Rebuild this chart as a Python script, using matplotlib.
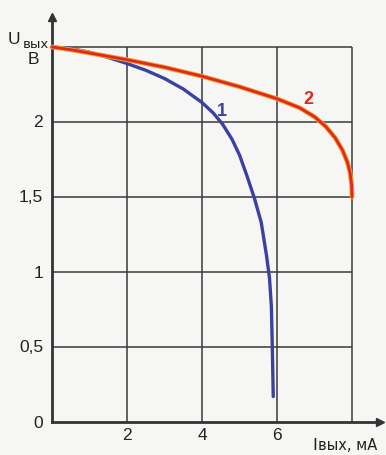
import matplotlib.pyplot as plt

# curve 1 (blue) and curve 2 (red): I out, mA -> U out, V
i1 = [0, 0.5, 1, 1.5, 2, 2.5, 3, 3.5, 4.0, 4.3, 4.55, 4.8, 5.0, 5.2, 5.4, 5.58, 5.72, 5.8, 5.85, 5.875, 5.9]
u1 = [2.5, 2.49, 2.465, 2.43, 2.39, 2.345, 2.29, 2.22, 2.13, 2.06, 1.985, 1.885, 1.78, 1.64, 1.49, 1.33, 1.11, 0.96, 0.77, 0.5, 0.17]
i2 = [0, 0.5, 1, 2, 3, 4, 5, 6, 6.6, 7.0, 7.3, 7.55, 7.75, 7.88, 7.95, 7.99, 8.0]
u2 = [2.5, 2.482, 2.46, 2.415, 2.365, 2.305, 2.235, 2.155, 2.095, 2.035, 1.97, 1.895, 1.81, 1.73, 1.66, 1.58, 1.5]

xgrid = [0, 2, 4, 6, 8]
ygrid = [0, 0.5, 1, 1.5, 2, 2.5]
xticklabels = {2: "2", 4: "4", 6: "6"}
yticklabels = {0: "0", 0.5: "0,5", 1: "1", 1.5: "1,5", 2: "2"}

plt.rcParams['font.family'] = ['Liberation Sans', 'DejaVu Sans']
W, H = 386, 456
fig = plt.figure(figsize=(W / 100, H / 100), dpi=100)
fig.patch.set_facecolor('#f6f6f4')

x0, y0, x1, y1 = 52, 423, 382, 13
ax = fig.add_axes([x0 / W, 1 - y0 / H, (x1 - x0) / W, (y0 - y1) / H])
ax.set_facecolor('none')
ax.set_xlim(0, (x1 - x0) / 37.5)
ax.set_ylim(0, (y0 - y1) / 150)
for s in ax.spines.values():
    s.set_visible(False)
ax.set_xticks([])
ax.set_yticks([])

grid_c = '#3a3a3a'
ax.hlines(ygrid[1:], 0, 8, color=grid_c, lw=1.1)
ax.vlines(xgrid[1:], 0, 2.5, color=grid_c, lw=1.1)

# axes with arrows
ax.plot([0, 8.75], [0, 0], color='#333333', lw=2, clip_on=False)
ax.plot([0, 0], [0, 2.7], color='#333333', lw=2, clip_on=False)
ax.plot(8.75, 0, marker='>', color='#333333', ms=6, clip_on=False)
ax.plot(0, 2.7, marker='^', color='#333333', ms=6, clip_on=False)

ax.plot(i1, u1, color='#3c40a0', lw=2.4, solid_capstyle='round', solid_joinstyle='round', clip_on=False)
ax.plot(i2, u2, color='#f2a030', lw=3.4, solid_capstyle='round', solid_joinstyle='round', clip_on=False)
ax.plot(i2, u2, color='#e0281c', lw=2.0, solid_capstyle='round', solid_joinstyle='round', clip_on=False)

for v, t in xticklabels.items():
    ax.text(v, -0.03, t, ha='center', va='top', fontsize=12.5, color='#222222')
for v, t in yticklabels.items():
    ax.text(-0.24, v, t, ha='right', va='center', fontsize=12.5, color='#222222')

ax.text(4.52, 2.075, "1", color='#3c40a0', fontsize=13, fontweight='bold', ha='center', va='center')
ax.text(6.83, 2.155, "2", color='#e0281c', fontsize=13, fontweight='bold', ha='center', va='center')

fig.text(8 / W, 1 - 44 / H, "U", fontsize=12.5, color='#222222', ha='left', va='baseline')
fig.text(23 / W, 1 - 48 / H, "вых", fontsize=9.5, color='#222222', ha='left', va='baseline',
         family='DejaVu Sans')
fig.text(33 / W, 1 - 59 / H, "B", fontsize=12.5, color='#222222', ha='center', va='center')
fig.text(312 / W, 1 - 450 / H, "I", fontsize=12.5, color='#222222', ha='left', va='baseline')
fig.text(318 / W, 1 - 450 / H, "вых, мА", fontsize=10.5, color='#222222', ha='left', va='baseline',
         family='DejaVu Sans')

fig.savefig("out.png", dpi=100, facecolor=fig.get_facecolor())
